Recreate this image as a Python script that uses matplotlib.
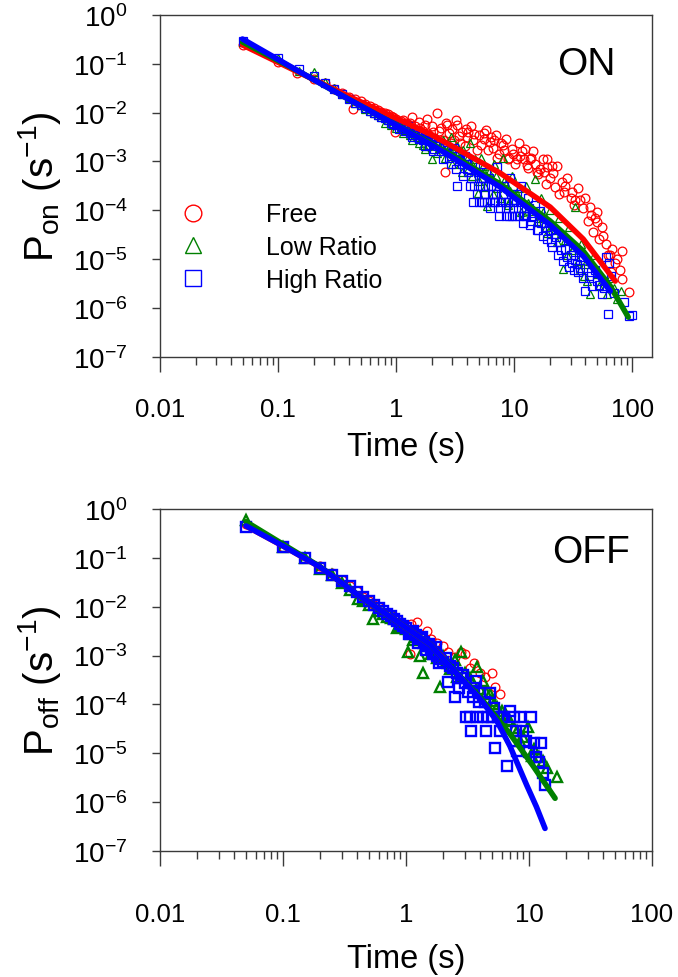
import matplotlib
matplotlib.use("Agg")
import matplotlib.pyplot as plt
from matplotlib.lines import Line2D
from matplotlib.ticker import FixedLocator, FuncFormatter, NullLocator, LogLocator
import numpy as np

plt.rcParams['font.family'] = ['Liberation Sans', 'DejaVu Sans']
plt.rcParams['mathtext.fontset'] = 'custom'
plt.rcParams['mathtext.rm'] = 'Liberation Sans'
plt.rcParams['mathtext.it'] = 'Liberation Sans:italic'
plt.rcParams['mathtext.bf'] = 'Liberation Sans:bold'
plt.rcParams['axes.unicode_minus'] = False

# ---------------- ON panel data ----------------
on_free_t = [0.05,0.1,0.145,0.2,0.25,0.3,0.35,0.4,0.43,0.45,0.5,0.55,0.6,0.65,0.7,0.75,0.8,0.85,0.9,0.95,
             0.98,1.0,1.1,1.2,1.3,1.37,1.45,1.6,1.7,1.83,1.9,2.0,2.1,2.2,2.3,2.5,2.6,2.65,2.7,2.9,
             3.0,3.2,3.4,3.6,3.8,4.1,4.3,4.5,4.8,5.0,5.5,5.8,6.2,6.6,7.0,7.5,8.0,8.5,9.0,9.5,
             10.6,11.0,11.7,12.0,12.8,13.6,14.5,15.5,16.6,17.5,19.0,19.1,20.0,21.5,23.0,25.2,26.3,28.0,31.0,33.0,
             35.0,38.0,40.0,43.8,46.5,48.0,50.0,50.5,52.0,55.0,60.0,65.0,68.0,72.0,75.0,82.0,82.5,93.7,
             1.15,1.25,1.55,1.75,2.05,2.4,2.8,3.1,3.3,3.5,3.9,4.0,4.6,5.2,5.6,6.0,6.4,6.8,7.2,7.8,
             8.2,8.8,9.8,10.2,11.3,12.4,13.2,14.0,15.0,16.0,18.0,18.5,21.0,22.0,24.0,27.0,30.0,32.0,36.0,42.0,
             45.0,56.0,62.0,66.0,78.0]
on_free_p = [0.24,0.11,0.065,0.05,0.04,0.031,0.025,0.021,0.012,0.019,0.017,0.015,0.0135,0.0125,0.0115,0.0105,0.0098,0.0093,0.0085,0.008,
             0.004,0.0075,0.0068,0.0062,0.006,0.0081,0.0052,0.0048,0.0043,0.0074,0.0035,0.0052,0.003,0.0098,0.0042,0.0027,0.0006,0.0061,0.0056,0.0024,
             0.0046,0.0072,0.0033,0.004,0.0021,0.004,0.0052,0.0027,0.0017,0.0034,0.0029,0.0045,0.0025,0.0019,0.0034,0.0014,0.0022,0.0029,0.0012,0.0018,
             0.0011,0.0024,0.0016,0.0011,0.00085,0.0011,0.0016,0.0006,0.0007,0.0011,0.00077,0.0011,0.00045,0.00058,0.0008,0.00038,0.000235,0.00045,0.000235,0.00016,
             0.00028,0.00011,0.00018,0.000117,0.000036,0.00007,0.000091,0.000057,0.000026,0.000045,0.00002,0.000012,0.000016,0.0000085,0.00001,0.0000145,0.0000039,0.0000021,
             0.0072,0.0058,0.0063,0.0055,0.0041,0.0049,0.0038,0.0028,0.0055,0.0024,0.0046,0.0031,0.0036,0.0022,0.0038,0.0017,0.0031,0.0027,0.0012,0.0024,
             0.0017,0.0011,0.0014,0.0009,0.0013,0.0018,0.00075,0.0012,0.0009,0.00055,0.0006,0.00035,0.0008,0.0003,0.00022,0.00032,0.00018,0.00013,0.00016,0.00006,
             0.00008,0.00003,0.000012,0.0000055,0.000006]

on_low_t = [0.05,0.1,0.15,0.2,0.25,0.3,0.35,0.4,0.45,0.5,0.55,0.6,0.65,0.7,0.75,0.8,0.85,0.9,0.95,1.0,
            1.1,1.2,1.3,1.4,1.5,1.6,1.7,1.8,1.9,2.0,2.1,2.3,2.5,2.7,2.9,3.1,3.3,3.5,3.7,4.0,
            4.2,4.5,4.9,5.2,5.5,5.9,6.3,6.8,7.2,8.0,8.5,9.0,9.6,10.5,11.5,12.5,13.5,15.0,16.0,17.0,
            18.5,20.0,22.0,24.0,26.0,27.0,29.0,31.0,33.0,35.0,37.0,40.0,41.6,44.0,47.0,50.0,55.0,61.0,65.0,70.0,
            75.0,80.0,
            1.05,1.15,1.25,1.35,1.45,1.55,1.65,1.75,1.85,2.2,2.4,2.6,2.8,3.0,3.2,3.4,3.6,3.9,4.1,
            4.4,4.7,5.0,5.4,5.7,6.1,6.6,7.0,7.6,8.2,8.8,9.3,10.0,11.0,12.0,13.0,14.0,15.5,17.5,19.0,
            21.0,23.0,25.0,28.0,32.0,36.0,39.0,43.0,52.0,58.0]
on_low_p = [0.28,0.13,0.072,0.068,0.042,0.032,0.024,0.02,0.016,0.014,0.012,0.011,0.0098,0.009,0.0082,0.0062,0.007,0.0055,0.006,0.0048,
            0.0052,0.0044,0.0035,0.0041,0.0031,0.0036,0.0022,0.003,0.0027,0.0011,0.0024,0.0019,0.0028,0.0016,0.0032,0.0013,0.0021,0.0009,0.0017,0.0011,
            0.0024,0.0008,0.00023,0.0012,0.0006,0.00012,0.00045,0.0009,0.00028,0.0012,0.00035,0.00015,0.0005,0.00022,0.00009,0.00032,0.00012,0.00044,0.00007,0.00018,
            0.000045,0.0001,0.00004,0.00007,0.0000063,0.000025,0.000045,0.000015,0.000116,0.000009,0.00002,0.000008,0.0000035,0.0000019,0.000012,0.000005,0.0000042,0.0000019,0.000004,0.0000025,
            0.0000015,0.0000022,
            0.0058,0.0038,0.0047,0.0028,0.0034,0.0024,0.0029,0.0018,0.0021,0.0015,0.0022,0.0012,0.0019,0.0009,0.0015,0.0011,0.0006,0.0013,0.0007,
            0.0005,0.0011,0.0004,0.0008,0.0003,0.0006,0.00022,0.0005,0.00018,0.0004,0.00013,0.00025,0.00016,0.00028,0.00008,0.00014,0.000095,0.00006,0.00009,0.000035,
            0.00005,0.000022,0.000035,0.000012,0.000018,0.000006,0.0000045,0.000009,0.0000028,0.0000035]

on_high_t = [0.05,0.1,0.15,0.2,0.25,0.3,0.35,0.4,0.45,0.5,0.55,0.6,0.65,0.7,0.75,0.8,0.85,0.9,0.95,1.0,
             1.05,1.1,1.2,1.3,1.4,1.5,1.6,1.7,1.8,1.9,2.0,2.1,2.2,2.4,2.6,2.8,3.0,3.3,3.4,3.6,
             3.8,4.0,4.2,4.5,4.7,5.0,5.2,5.5,5.8,6.0,6.2,6.6,6.9,7.2,7.5,7.8,8.2,8.5,8.8,9.2,
             9.6,10.0,10.5,11.0,11.5,12.0,12.5,13.0,13.6,14.5,15.0,16.0,16.5,17.5,18.0,19.0,20.0,21.0,22.0,23.5,
             24.5,26.0,27.0,29.0,30.0,32.0,33.0,35.0,37.0,38.0,40.0,43.0,46.0,50.0,55.0,60.0,62.0,64.0,66.0,70.0,
             85.0,93.0,100.0,
             1.15,1.25,1.35,1.45,1.55,1.65,1.75,1.85,1.95,2.05,2.15,2.3,2.5,2.7,2.9,3.1,3.2,3.5,3.7,3.9,
             4.1,4.3,4.4,4.6,4.8,4.9,5.1,5.3,5.4,5.6,5.7,5.9,6.1,6.3,6.4,6.8,7.0,7.4,7.6,8.0,
             8.4,8.6,9.0,9.4,9.8,10.2,10.8,11.2,11.8,12.2,13.3,14.0,15.5,17.0,18.5,20.5,22.5,25.0,28.0,31.0,
             34.0,36.0,45.0,48.0,52.0,58.0]
on_high_p = [0.3,0.13,0.078,0.055,0.04,0.03,0.024,0.019,0.016,0.014,0.0125,0.011,0.0098,0.0088,0.0083,0.0076,0.007,0.0062,0.0058,0.0055,
             0.0047,0.005,0.0043,0.0039,0.0035,0.0041,0.003,0.0027,0.0033,0.0022,0.0025,0.0018,0.0021,0.0016,0.0019,0.0012,0.0015,0.00031,0.0011,0.0009,
             0.0013,0.0007,0.00032,0.00015,0.0009,0.00015,0.00045,0.00015,0.0006,0.00032,0.00015,0.00022,0.00015,0.00076,0.000076,0.00015,0.00032,0.000076,0.00015,0.00045,
             0.000076,0.00015,0.00022,0.000076,0.00032,0.00011,0.000076,0.00018,0.00005,0.000076,0.00013,0.00004,0.000095,0.00003,0.000055,0.000026,0.00004,0.000018,0.000032,0.000012,
             0.000022,0.000009,0.000016,0.000007,0.000012,0.000006,0.0000095,0.0000055,0.000011,0.000004,0.0000022,0.0000045,0.0000028,0.0000036,0.0000019,0.000011,0.00000074,0.0000085,0.0000045,0.000002,
             0.0000013,0.00000068,0.0000007,
             0.0046,0.0052,0.0032,0.0038,0.0029,0.0034,0.0021,0.0028,0.0026,0.0016,0.0023,0.0024,0.0011,0.0017,0.0009,0.0019,0.0007,0.0013,0.0005,0.0011,
             0.0006,0.00045,0.0009,0.00032,0.00022,0.0006,0.00032,0.00015,0.00045,0.00022,0.00032,0.00015,0.00045,0.00011,0.00032,0.00015,0.00022,0.00032,0.00011,0.00022,
             0.00015,0.00011,0.000076,0.00022,0.00011,0.000076,0.00011,0.00015,0.000055,0.000076,0.00011,0.00006,0.00004,0.000055,0.000045,0.000022,0.000028,0.000015,0.000011,0.0000085,
             0.000008,0.0000065,0.0000055,0.000006,0.000003,0.0000025]

# fitted curves (ON)
on_fit_free_t = [0.05,0.1536,0.4075,0.776,1.942,2.868,7.61,20.19,38.43,71.8]
on_fit_free_p = [0.243,0.0648,0.0209,0.01028,0.00364,0.00217,0.000578,0.000116,0.0000257,0.00000354]
on_fit_low_t = [0.05,0.1536,0.4075,0.776,1.942,2.868,7.61,20.19,38.43,65.1,92.5]
on_fit_low_p = [0.280,0.0679,0.0181,0.00775,0.00238,0.00142,0.000344,0.0000601,0.0000146,0.0000028,0.000000647]
on_fit_high_t = [0.05,0.1536,0.4075,0.776,1.942,2.868,7.61,20.19,38.43,65.1]
on_fit_high_p = [0.322,0.0679,0.0181,0.00775,0.00227,0.00129,0.000299,0.0000498,0.0000115,0.00000221]

# ---------------- OFF panel data ----------------
off_free_t = [0.05,0.1,0.2,0.25,0.3,0.35,0.4,0.45,0.5,0.55,0.6,0.7,0.75,0.8,0.9,1.0,1.07,1.1,1.23,1.3,
              1.48,1.6,1.8,2.0,2.2,2.5,2.8,3.0,3.3,3.6,4.0,4.4,5.0,5.3,5.8]
off_free_p = [0.5,0.17,0.068,0.05,0.036,0.026,0.021,0.016,0.013,0.011,0.0098,0.0075,0.0068,0.0062,0.0048,0.0042,0.0011,0.0045,0.0049,0.0028,
              0.0032,0.0022,0.0018,0.0016,0.0012,0.00095,0.0012,0.0011,0.00055,0.0007,0.00045,0.00036,0.00044,0.00023,0.00016]

off_low_t = [0.05,0.1,0.15,0.2,0.25,0.3,0.35,0.41,0.45,0.5,0.54,0.6,0.7,0.8,0.9,1.0,1.04,1.1,1.2,1.3,
             1.37,1.5,1.7,1.9,2.0,2.2,2.5,2.8,3.0,3.3,3.8,4.2,4.5,5.0,5.5,6.0,6.5,7.0,8.0,9.0,
             9.8,11.0,12.0,14.0,16.8,
             0.65,0.75,0.85,0.95,1.15,1.25,1.4,1.6,1.8,2.1,2.3,2.6,3.5,4.0,4.8,5.2,5.8,6.8,7.5,8.5,
             10.5,13.0]
off_low_p = [0.6,0.17,0.1,0.06,0.045,0.031,0.022,0.0145,0.013,0.011,0.0056,0.0082,0.0062,0.0055,0.0041,0.0035,0.0012,0.0028,0.0024,0.001,
             0.00043,0.0016,0.0013,0.00023,0.001,0.0007,0.0008,0.0012,0.00045,0.00035,0.00059,0.0003,0.00018,0.00012,0.00009,0.000075,0.00006,0.000045,0.000028,0.000022,
             0.000035,0.000012,0.0000085,0.000005,0.0000033,
             0.0072,0.0058,0.0036,0.0042,0.0021,0.0026,0.0018,0.0011,0.0009,0.00075,0.00052,0.00036,0.00028,0.00021,0.00016,0.0001,0.000062,0.000048,0.000033,0.000018,
             0.000009,0.0000068]

off_high_t = [0.05,0.1,0.15,0.2,0.25,0.3,0.35,0.4,0.45,0.5,0.55,0.6,0.65,0.7,0.75,0.8,0.85,0.9,0.95,1.0,
              1.1,1.2,1.3,1.4,1.5,1.6,1.7,1.8,1.9,2.0,2.2,2.3,2.5,2.6,2.8,3.0,3.1,3.3,3.4,3.6,
              3.8,4.0,4.2,4.5,4.8,5.0,5.3,5.6,6.0,6.6,7.0,7.5,8.4,9.0,10.0,10.3,11.0,12.1,12.6,13.0,
              13.5,
              1.05,1.15,1.25,1.35,1.45,1.55,1.65,1.75,1.85,2.1,2.4,2.7,2.9,3.2,3.5,3.7,3.9,4.4,4.6,5.2,
              5.8,6.3,7.8,8.0,9.5,11.5]
off_high_p = [0.42,0.17,0.1,0.062,0.045,0.033,0.026,0.02,0.016,0.013,0.011,0.0095,0.0083,0.0072,0.0064,0.0057,0.005,0.0045,0.004,0.0036,
              0.003,0.0026,0.0022,0.0019,0.0016,0.0014,0.0012,0.001,0.00085,0.00075,0.00029,0.0006,0.00014,0.00045,0.00035,0.00028,0.000056,0.000056,0.000028,0.00022,
              0.000056,0.00017,0.000056,0.000028,0.00017,0.000056,0.000013,0.000056,0.000056,0.0000055,0.000074,0.000056,0.000056,0.000028,0.0000105,0.000056,0.000016,0.0000065,0.000016,0.000004,
              0.0000022,
              0.0028,0.0032,0.0018,0.0024,0.0013,0.0017,0.0011,0.0015,0.0007,0.0009,0.00055,0.00022,0.0004,0.00018,0.00014,0.0003,0.00011,0.00011,0.000056,0.000085,
              0.000028,0.000056,0.000028,0.000011,0.000018,0.0000085]

off_fit_free_t = [0.05,0.1,0.2,0.4,0.8,1.57,2.0]
off_fit_free_p = [0.45,0.175,0.065,0.018,0.0055,0.0017,0.0009]
off_fit_low_t = [0.05,0.1,0.2,0.4,0.8,1.57,2.5,4.0,7.0,10.8,16.3]
off_fit_low_p = [0.55,0.19,0.066,0.018,0.0055,0.0017,0.00048,0.00014,0.000025,0.0000055,0.0000012]
off_fit_high_t = [0.05,0.1,0.2,0.4,0.8,1.57,2.5,4.0,5.5,7.0,9.6,11.5,13.5]
off_fit_high_p = [0.45,0.175,0.065,0.018,0.0055,0.0017,0.00047,0.00013,0.000045,0.000014,0.0000022,0.0000008,0.00000029]

series_labels = ['Free', 'Low Ratio', 'High Ratio']
colors = ['#ff0000', '#008000', '#0000ff']
markers = ['o', '^', 's']

x_ticks = [0.01, 0.1, 1, 10, 100]
x_ticklabels = ['0.01', '0.1', '1', '10', '100']
y_ticks = [1e-7, 1e-6, 1e-5, 1e-4, 1e-3, 1e-2, 1e-1, 1e0]

W, H = 678, 978
fig = plt.figure(figsize=(W / 100, H / 100), dpi=100)

def fx(px):
    return px / W

def fy(py):
    return 1 - py / H

ax1 = fig.add_axes([fx(160), fy(357.7), fx(652) - fx(160), fy(16) - fy(357.7)])
ax2 = fig.add_axes([fx(160), fy(852), fx(652) - fx(160), fy(510) - fy(852)])

spine_col = '#3a3a3a'

def style(ax, xmax, label_pad):
    ax.set_xscale('log')
    ax.set_yscale('log')
    ax.set_xlim(0.01, xmax)
    ax.set_ylim(1e-7, 1)
    ax.xaxis.set_major_locator(FixedLocator(x_ticks))
    ax.xaxis.set_major_formatter(FuncFormatter(
        lambda v, p: x_ticklabels[x_ticks.index(v)] if v in x_ticks else ''))
    ax.xaxis.set_minor_locator(LogLocator(base=10, subs=np.arange(2, 10), numticks=20))
    ax.yaxis.set_major_locator(FixedLocator(y_ticks))
    ax.yaxis.set_minor_locator(NullLocator())
    ax.yaxis.set_major_formatter(FuncFormatter(
        lambda v, p: r'$\mathregular{10^{%d}}$' % int(round(np.log10(v)))))
    for s in ax.spines.values():
        s.set_color(spine_col)
        s.set_linewidth(1.0)
    ax.tick_params(axis='x', which='major', direction='out', length=11, width=1.0,
                   color=spine_col, labelsize=18.5, pad=label_pad, top=False)
    ax.tick_params(axis='x', which='minor', direction='out', length=5.5, width=1.0,
                   color=spine_col, top=False)
    ax.tick_params(axis='y', which='major', direction='out', length=5.5, width=1.0,
                   color=spine_col, labelsize=20, pad=18, right=False)

style(ax1, 147, 18)
style(ax2, 100, 26)

on_data = [(on_free_t, on_free_p), (on_low_t, on_low_p), (on_high_t, on_high_p)]
on_fits = [(on_fit_free_t, on_fit_free_p), (on_fit_low_t, on_fit_low_p), (on_fit_high_t, on_fit_high_p)]
off_data = [(off_free_t, off_free_p), (off_low_t, off_low_p), (off_high_t, off_high_p)]
off_fits = [(off_fit_free_t, off_fit_free_p), (off_fit_low_t, off_fit_low_p), (off_fit_high_t, off_fit_high_p)]

for (t, p), c, m in zip(on_data, colors, markers):
    ax1.plot(t, p, linestyle='none', marker=m, markersize=6.3, markerfacecolor='none',
             markeredgecolor=c, markeredgewidth=0.9, zorder=2)
for (t, p), c in zip(on_fits, colors):
    ax1.plot(t, p, '-', color=c, linewidth=4, solid_capstyle='round', zorder=3)

edge_w = [0.9, 1.7, 1.7]
msize = [6.3, 7.2, 7.0]
for (t, p), c, m, ew, ms in zip(off_data, colors, markers, edge_w, msize):
    ax2.plot(t, p, linestyle='none', marker=m, markersize=ms, markerfacecolor='none',
             markeredgecolor=c, markeredgewidth=ew, zorder=2)
for (t, p), c in zip(off_fits, colors):
    ax2.plot(t, p, '-', color=c, linewidth=4, solid_capstyle='round', zorder=3)

ax1.set_xlabel('Time (s)', fontsize=23.5, labelpad=7)
ax2.set_xlabel('Time (s)', fontsize=23.5, labelpad=12)
ax1.set_ylabel(r'P$_{\mathregular{on}}$ (s$^{\mathregular{-1}}$)', fontsize=29)
ax2.set_ylabel(r'P$_{\mathregular{off}}$ (s$^{\mathregular{-1}}$)', fontsize=29)
ax1.yaxis.set_label_coords(-0.198, 0.5)
ax2.yaxis.set_label_coords(-0.198, 0.5)

ax1.text(0.925, 0.857, 'ON', transform=ax1.transAxes, fontsize=28, ha='right', va='center')
ax2.text(0.955, 0.874, 'OFF', transform=ax2.transAxes, fontsize=28, ha='right', va='center')

handles = [Line2D([], [], linestyle='none', marker=m, markersize=12, markerfacecolor='none',
                  markeredgecolor=c, markeredgewidth=1.0) for c, m in zip(colors, markers)]
ax1.legend(handles, series_labels, loc='upper left', bbox_to_anchor=(0.042, 0.452),
           frameon=False, fontsize=18, handlelength=1.0, handletextpad=2.4,
           labelspacing=0.35, borderpad=0, borderaxespad=0, numpoints=1)

fig.savefig('out.png', dpi=100)
